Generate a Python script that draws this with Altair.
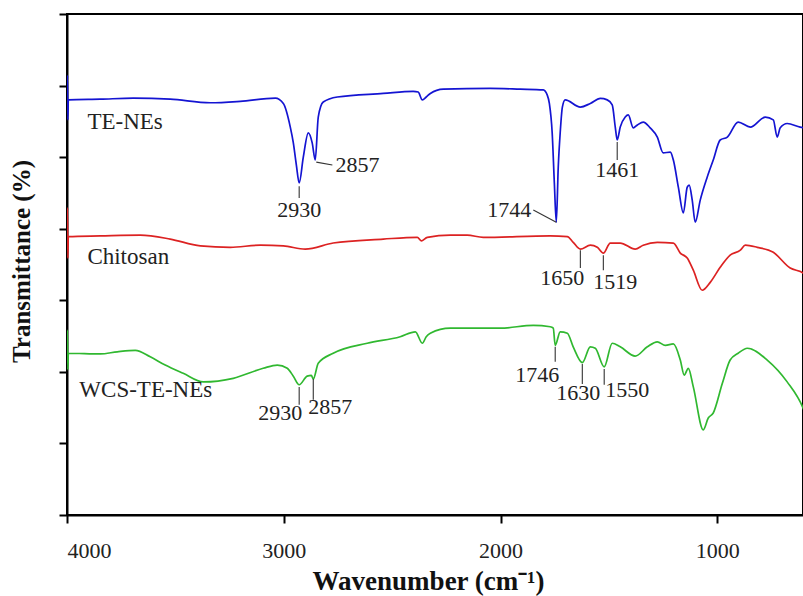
import altair as alt
import pandas as pd

# ---------------- data (wavenumber, transmittance offset units) ----------------
series_names = ["TE-NEs", "Chitosan", "WCS-TE-NEs"]
series_colors = ["#1414d2", "#dc2222", "#30b830"]

te_wn = [4000, 3998, 3996, 3994, 3846, 3694, 3524, 3339, 3201, 3039, 3002, 2970, 2956, 2942,
         2929, 2910, 2887, 2869, 2855, 2841, 2818, 2753, 2541, 2403, 2380, 2361, 2343, 2324,
         2264, 2048, 1909, 1803, 1785, 1775, 1762, 1752, 1743, 1734, 1725, 1715, 1702, 1632,
         1586, 1540, 1508, 1485, 1471, 1462, 1448, 1425, 1411, 1388, 1369, 1342, 1310, 1277,
         1250, 1217, 1203, 1180, 1157, 1139, 1130, 1116, 1102, 1079, 1047, 1019, 987, 954,
         904, 848, 779, 742, 724, 710, 678, 618, 600]
te_t = [57.96, 61.4, 55.2, 58.0, 58.1, 58.24, 58.1, 57.6, 57.8, 58.24, 57.5, 54.2, 52.0, 48.9,
        46.4, 50.0, 53.4, 52.0, 49.6, 55.6, 57.7, 58.4, 58.9, 59.2, 59.1, 58.0, 58.4, 58.9,
        59.5, 59.6, 59.5, 59.4, 58.7, 57.5, 53.4, 46.4, 40.9, 48.6, 53.4, 57.0, 58.0, 57.0,
        57.5, 58.2, 58.0, 57.3, 54.2, 52.4, 54.2, 55.6, 55.9, 54.1, 54.5, 54.9, 54.1, 52.8,
        50.6, 50.7, 49.6, 45.8, 42.2, 45.8, 46.1, 44.0, 40.9, 44.0, 47.2, 49.6, 52.4, 52.8,
        54.9, 54.2, 55.6, 55.2, 52.8, 54.1, 54.7, 54.2, 54.1]

ch_wn = [4000, 3998, 3996, 3994, 3846, 3662, 3524, 3385, 3247, 3108, 3002, 2901, 2772, 2541,
         2384, 2366, 2338, 2232, 2154, 2080, 1771, 1692, 1665, 1632, 1586, 1554, 1526, 1494,
         1448, 1379, 1342, 1277, 1203, 1171, 1139, 1111, 1070, 1033, 987, 941, 894, 871, 816,
         742, 664, 604, 600]
ch_t = [38.9, 42.9, 35.9, 38.9, 39.0, 39.1, 38.55, 37.6, 37.4, 37.7, 37.6, 37.15, 38.0, 38.55,
        38.8, 38.3, 38.8, 39.1, 39.1, 38.8, 39.0, 38.9, 38.1, 37.15, 37.7, 37.4, 36.6, 38.0,
        38.0, 37.15, 37.7, 38.1, 38.0, 36.6, 35.9, 34.2, 31.4, 32.5, 34.6, 36.3, 37.0, 37.7, 37.4,
        36.7, 34.5, 33.8, 33.7]

wcs_wn = [4000, 3998, 3996, 3994, 3846, 3768, 3685, 3616, 3547, 3464, 3371, 3233, 3095, 3030,
          2984, 2956, 2929, 2892, 2873, 2864, 2841, 2772, 2615, 2463, 2393, 2361, 2343, 2324,
          2232, 2001, 1849, 1771, 1757, 1748, 1725, 1692, 1665, 1623, 1586, 1563, 1522, 1485,
          1448, 1379, 1323, 1277, 1240, 1203, 1171, 1153, 1134, 1111, 1065, 1042, 1019, 977,
          941, 904, 862, 770, 678, 604, 600]
wcs_t = [22.6, 25.8, 20.3, 22.6, 22.5, 22.8, 23.0, 22.1, 20.95, 19.8, 18.6, 19.1, 20.5, 20.95,
         20.5, 19.4, 18.2, 19.4, 19.5, 19.0, 21.2, 22.6, 24.0, 24.9, 25.6, 24.0, 24.9, 25.4,
         26.1, 26.1, 26.5, 26.3, 26.1, 23.7, 25.6, 25.4, 23.5, 21.3, 23.5, 23.3, 20.7, 24.0,
         23.5, 22.2, 23.5, 24.2, 23.7, 23.9, 21.65, 19.55, 20.5, 17.9, 11.9, 13.55, 14.25, 18.4,
         21.65, 22.6, 23.3, 21.65, 18.6, 14.9, 14.6]

# series name labels
name_wn = [3906, 3906, 3943]
name_t = [54.9, 36.0, 17.5]

# peak annotations: text, leader start/end, text anchor, alignment
peak_text = ["2930", "2857", "1744", "1461", "1650", "1519", "2930", "2857", "1746", "1630", "1550"]
lead_wn1 = [2929, 2850, 1849, 1462, 1632, 1526, 2929, 2864, 1748, 1623, 1522]
lead_t1 = [45.95, 49.3, 42.6, 52.1, 37.0, 36.3, 17.9, 19.0, 23.5, 21.1, 20.4]
lead_wn2 = [2929, 2776, 1743, 1462, 1632, 1526, 2929, 2864, 1748, 1623, 1522]
lead_t2 = [44.3, 48.9, 40.9, 49.6, 34.5, 34.2, 15.4, 16.1, 21.4, 18.3, 18.2]
label_wn = [2929, 2762, 1858, 1462, 1715, 1471, 3016, 2786, 1831, 1642, 1416]
label_t = [42.6, 48.9, 42.6, 48.2, 33.1, 32.5, 14.25, 15.1, 19.55, 17.0, 17.5]
label_align = ["center", "left", "right", "center", "center", "center",
               "center", "center", "center", "center", "center"]

x_ticks = [4000, 3000, 2000, 1000]
y_ticks = [0, 10, 20, 30, 40, 50, 60, 70]

# ---------------- tables ----------------
rows = []
for name, wns, ts in zip(series_names, [te_wn, ch_wn, wcs_wn], [te_t, ch_t, wcs_t]):
    for w, t in zip(wns, ts):
        rows.append({"series": name, "wn": w, "t": t})
spec_df = pd.DataFrame(rows)

names_df = pd.DataFrame({"label": series_names, "wn": name_wn, "t": name_t})
lead_df = pd.DataFrame({"wn": lead_wn1, "t": lead_t1, "wn2": lead_wn2, "t2": lead_t2})
ann_df = pd.DataFrame({"label": peak_text, "wn": label_wn, "t": label_t, "align": label_align})

FONT = "Liberation Serif"

x_scale = alt.Scale(domain=[4000, 605], nice=False, zero=False)
y_scale = alt.Scale(domain=[0, 70], nice=False, zero=False)

x_axis = alt.Axis(
    title="Wavenumber (cm⁻¹)", values=x_ticks, format="d", grid=False,
    labelFont=FONT, labelFontSize=22, labelColor="#222", labelBaseline="middle",
    labelPadding=27, tickSize=8, tickWidth=2, tickColor="black",
    domainColor="black", domainWidth=2,
    titleFont=FONT, titleFontSize=27, titleFontWeight="bold", titleColor="#111",
    titleX=361, titleY=74, titleBaseline="alphabetic", titleAlign="center",
)
y_axis = alt.Axis(
    title="Transmittance (%)", values=y_ticks, labels=False, grid=False,
    tickSize=8, tickWidth=2, tickColor="black", domainColor="black", domainWidth=2,
    titleFont=FONT, titleFontSize=25, titleFontWeight="bold", titleColor="#111",
    titleAngle=270, titleX=-38, titleY=247, titleBaseline="alphabetic", titleAlign="center",
)

lines = alt.Chart(spec_df).mark_line(strokeWidth=1.7, clip=True, interpolate="monotone").encode(
    x=alt.X("wn:Q", scale=x_scale, axis=x_axis),
    y=alt.Y("t:Q", scale=y_scale, axis=y_axis),
    color=alt.Color("series:N", scale=alt.Scale(domain=series_names, range=series_colors), legend=None),
)

names = alt.Chart(names_df).mark_text(
    font=FONT, fontSize=23, align="left", baseline="middle", color="#222"
).encode(x="wn:Q", y="t:Q", text="label:N")

leaders = alt.Chart(lead_df).mark_rule(color="#333", strokeWidth=1.1).encode(
    x="wn:Q", x2="wn2:Q", y="t:Q", y2="t2:Q"
)

ann_layers = []
for al in ["left", "center", "right"]:
    sub = ann_df[ann_df["align"] == al]
    if len(sub):
        ann_layers.append(
            alt.Chart(sub).mark_text(
                font=FONT, fontSize=22, align=al, baseline="middle", color="#222"
            ).encode(x="wn:Q", y="t:Q", text="label:N")
        )

chart = alt.layer(lines, leaders, names, *ann_layers).properties(
    width=736, height=501,
    autosize=alt.AutoSizeParams(type="none"),
    padding={"left": 67, "top": 14, "right": 0, "bottom": 81},
).configure_view(stroke="black", strokeWidth=2).configure_axis(
    labelFont=FONT, titleFont=FONT
).configure_text(font=FONT)

chart.save("out.html", embed_options={"renderer": "svg", "actions": False})
